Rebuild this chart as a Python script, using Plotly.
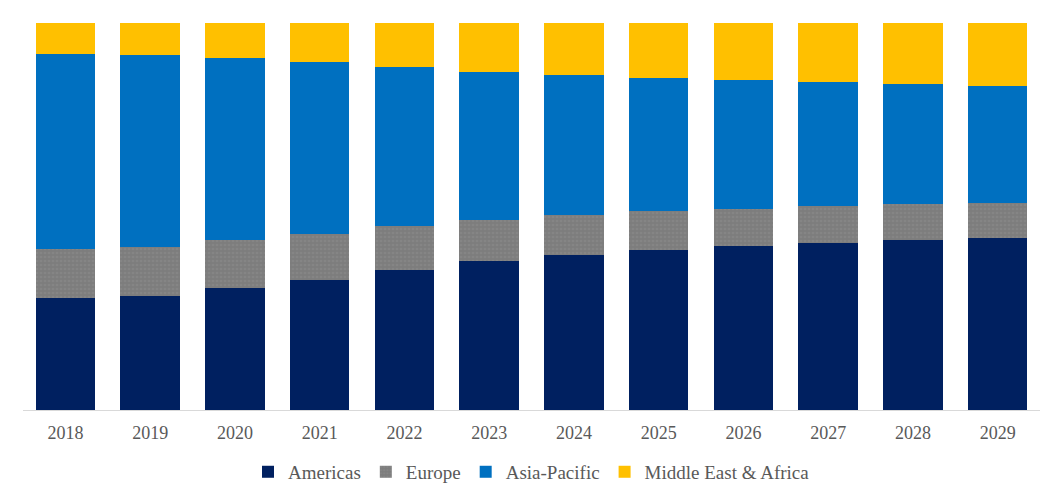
import plotly.graph_objects as go

years = ["2018", "2019", "2020", "2021", "2022", "2023", "2024", "2025", "2026", "2027", "2028", "2029"]
americas = [28.9, 29.5, 31.5, 33.6, 36.2, 38.5, 40.1, 41.3, 42.4, 43.2, 43.9, 44.4]
europe = [12.7, 12.7, 12.4, 11.9, 11.4, 10.6, 10.3, 10.1, 9.6, 9.6, 9.3, 9.0]
asia_pacific = [50.4, 49.6, 47.0, 44.4, 41.1, 38.2, 36.2, 34.4, 33.3, 32.0, 31.0, 30.2]
mea = [8.0, 8.3, 9.0, 10.1, 11.4, 12.7, 13.4, 14.2, 14.7, 15.2, 15.8, 16.3]

fig = go.Figure()
fig.add_trace(go.Bar(name="Americas", x=years, y=americas, marker=dict(color="#002060", line=dict(width=0))))
fig.add_trace(go.Bar(name="Europe", x=years, y=europe,
                     marker=dict(color="#808080", line=dict(width=0),
                                 pattern=dict(shape=".", fgcolor="#8e8e8e", bgcolor="#7d7d7d",
                                              size=4, solidity=0.35))))
fig.add_trace(go.Bar(name="Asia-Pacific", x=years, y=asia_pacific, marker=dict(color="#0070C0", line=dict(width=0))))
fig.add_trace(go.Bar(name="Middle East & Africa", x=years, y=mea, marker=dict(color="#FFC000", line=dict(width=0))))

fig.update_layout(
    width=1047, height=486,
    barmode="stack", barnorm="percent", bargap=0.30,
    margin=dict(l=15, r=15, t=15, b=84, autoexpand=False),
    paper_bgcolor="white", plot_bgcolor="white",
    font=dict(family="Liberation Serif, Times New Roman, serif", size=18, color="#595959"),
    xaxis=dict(showline=True, linecolor="#D9D9D9", linewidth=1, ticks="", showgrid=False,
               ticklabelstandoff=6, tickfont=dict(size=18, color="#595959"), automargin=False),
    yaxis=dict(range=[0, 100], visible=False, showgrid=False),
    legend=dict(orientation="h", x=0.5, xanchor="center", y=-0.16, yanchor="middle",
                itemwidth=30, font=dict(size=19, color="#595959"), traceorder="normal"),
    showlegend=True,
)
fig.write_html("out.html")
